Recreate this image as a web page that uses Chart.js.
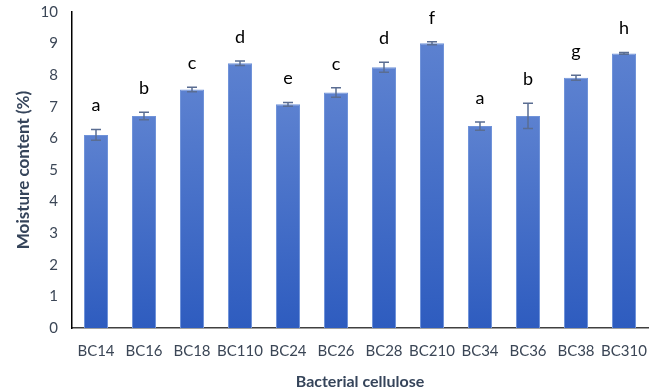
<!DOCTYPE html>
<html>
<head>
<meta charset="utf-8">
<script src="https://cdn.jsdelivr.net/npm/chart.js@4/dist/chart.umd.min.js"></script>
<style>
  html, body { margin: 0; padding: 0; background: #ffffff; }
  #wrap { width: 659px; height: 391px; position: relative; }
</style>
</head>
<body>
<div id="wrap"><canvas id="chart" width="659" height="391"></canvas></div>
<script>
// Moisture content of bacterial cellulose samples (mean, SD, significance group)
const categories = ["BC14", "BC16", "BC18", "BC110", "BC24", "BC26", "BC28", "BC210", "BC34", "BC36", "BC38", "BC310"];
const moisture   = [6.11, 6.71, 7.55, 8.38, 7.08, 7.45, 8.25, 9.01, 6.39, 6.71, 7.92, 8.69];
const stdDev     = [0.17, 0.12, 0.07, 0.07, 0.06, 0.15, 0.16, 0.05, 0.13, 0.40, 0.08, 0.03];
const groups     = ["a", "b", "c", "d", "e", "c", "d", "f", "a", "b", "g", "h"];
const yTicks     = [0, 1, 2, 3, 4, 5, 6, 7, 8, 9, 10];

const FONT = "Lato, 'Open Sans', sans-serif";

// Vertical gradient per bar: lighter at the top, deeper blue at the base
function barGradient(ctx) {
  const chart = ctx.chart;
  const ys = chart.scales && chart.scales.y;
  if (!ys || ctx.type !== 'data') return '#4570c9';
  const top = ys.getPixelForValue(ctx.parsed.y);
  const base = ys.getPixelForValue(0);
  if (!isFinite(top) || !isFinite(base) || base === top) return '#4570c9';
  const g = chart.ctx.createLinearGradient(0, top, 0, base);
  g.addColorStop(0, '#5c81d0');
  g.addColorStop(1, '#2e5cbf');
  return g;
}

// Error bars (± SD) and group letters above them
const annotate = {
  id: 'annotate',
  afterDatasetsDraw(chart) {
    const c = chart.ctx;
    const ys = chart.scales.y;
    const meta = chart.getDatasetMeta(0);
    c.save();
    meta.data.forEach((bar, i) => {
      const x = bar.x;
      const hi = ys.getPixelForValue(moisture[i] + stdDev[i]);
      const lo = ys.getPixelForValue(moisture[i] - stdDev[i]);
      c.strokeStyle = '#5a6d92';
      c.lineWidth = 1.5;
      c.beginPath();
      c.moveTo(x, lo); c.lineTo(x, hi);
      c.moveTo(x - 5, hi); c.lineTo(x + 5, hi);
      c.moveTo(x - 5, lo); c.lineTo(x + 5, lo);
      c.stroke();
      c.fillStyle = '#000000';
      c.font = '18px ' + FONT;
      c.textAlign = 'center';
      c.textBaseline = 'middle';
      c.fillText(groups[i], x, hi - 24);
    });
    c.restore();
  }
};

new Chart(document.getElementById('chart'), {
  type: 'bar',
  data: {
    labels: categories,
    datasets: [{
      data: moisture,
      backgroundColor: barGradient,
      borderColor: '#7093d9',
      borderWidth: 1,
      barPercentage: 0.5,
      categoryPercentage: 1.0
    }]
  },
  options: {
    responsive: false,
    animation: false,
    layout: { padding: { top: 12, right: 11, left: 0, bottom: 0 } },
    plugins: { legend: { display: false }, tooltip: { enabled: false } },
    scales: {
      x: {
        grid: { display: false, drawTicks: false },
        border: { display: true, color: '#404040', width: 1.5 },
        ticks: { color: '#3b4656', font: { family: FONT, size: 15 }, padding: 14, maxRotation: 0, autoSkip: false },
        title: { display: true, text: 'Bacterial cellulose', color: '#35445a', font: { family: FONT, size: 16, weight: 'bold' }, padding: { top: 1, bottom: 0 } },
        afterFit(s) { s.height = 391 - 328; s.paddingLeft = 0; s.paddingRight = 0; }
      },
      y: {
        min: 0, max: 10,
        afterBuildTicks(s) { s.ticks = yTicks.map(v => ({ value: v })); },
        grid: { display: false, drawTicks: false },
        border: { display: true, color: '#000000', width: 1.5 },
        ticks: { color: '#3b4656', font: { family: FONT, size: 15 }, padding: 14 },
        title: { display: true, text: 'Moisture content (%)', color: '#35445a', font: { family: FONT, size: 17, weight: 'bold' }, padding: { top: 13, bottom: 0 } },
        afterFit(s) { s.width = 72; s.paddingTop = 0; s.paddingBottom = 0; }
      }
    }
  },
  plugins: [annotate]
});
</script>
</body>
</html>
